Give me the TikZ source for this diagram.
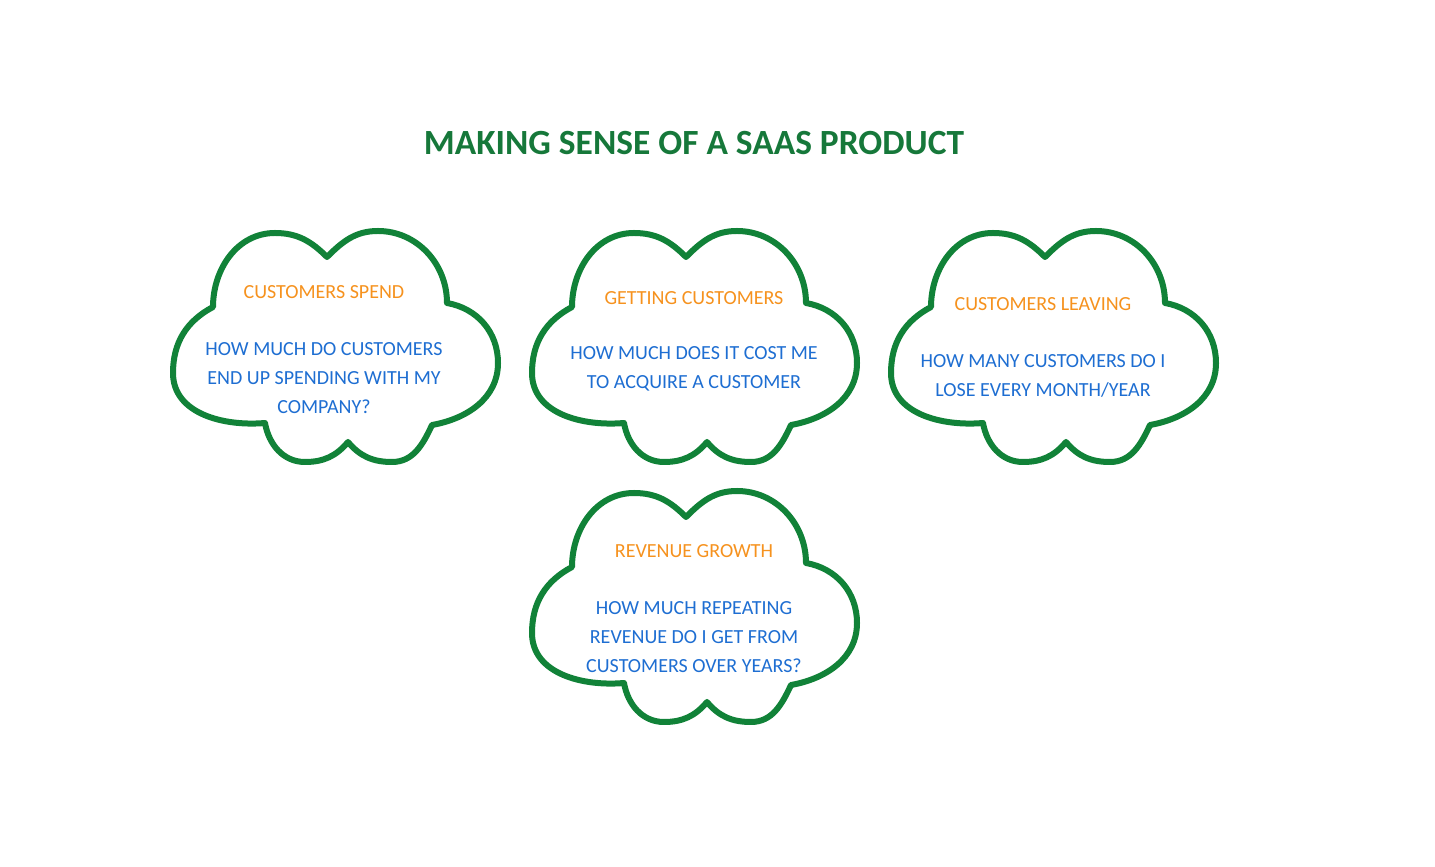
\documentclass[tikz,border=0pt]{standalone}
\usepackage{fontspec}
\setmainfont{Carlito}
\usepackage{tikz}
\definecolor{cloudgreen}{RGB}{17,130,56}
\definecolor{titlegreen}{RGB}{22,120,58}
\definecolor{headorange}{RGB}{246,146,30}
\definecolor{bodyblue}{RGB}{30,110,210}
\tikzset{
  cloudline/.style={draw=cloudgreen,line width=3pt,fill=white,line join=round},
  head/.style={text=headorange,font=\fontsize{10}{12}\selectfont,inner sep=0pt},
  body/.style={text=bodyblue,font=\fontsize{10}{14.5}\selectfont,align=center,inner sep=0pt},
}
\begin{document}
\begin{tikzpicture}[x=0.5pt,y=0.5pt]
\useasboundingbox (0,0) rectangle (1435,867);
% clouds
\foreach \cx/\cy in {336/521,695/521,1054/521,695/261}{
  \path[cloudline,shift={(\cx,\cy)}] (-123,39) to[out=90,in=180] (-61,113) to[out=0,in=135] (-9,89)
    to[out=45,in=180] (42,115) to[out=0,in=90] (111,43)
    to[out=-10,in=90] (162,-17) to[out=-90,in=10] (96,-79)
    to[out=-115,in=0] (56,-116) to[out=180,in=-50] (12,-96)
    to[out=-130,in=0] (-31,-116) to[out=180,in=-80] (-71,-77)
    to[out=185,in=-90] (-163,-27) to[out=90,in=208] cycle;}
\node[text=titlegreen,font=\fontsize{17.7}{21}\selectfont\bfseries] (title) at (694,724) {MAKING SENSE OF A SAAS PRODUCT};
\node[head] (spendhead) at (324,575) {CUSTOMERS SPEND};
\node[body] (spendbody) at (324,489) {HOW MUCH DO CUSTOMERS\\END UP SPENDING WITH MY\\COMPANY?};
\node[head] (gethead) at (694,569) {GETTING CUSTOMERS};
\node[body] (getbody) at (694,498) {HOW MUCH DOES IT COST ME\\TO ACQUIRE A CUSTOMER};
\node[head] (leavehead) at (1043,563) {CUSTOMERS LEAVING};
\node[body] (leavebody) at (1043,491) {HOW MANY CUSTOMERS DO I\\LOSE EVERY MONTH/YEAR};
\node[head] (growhead) at (694,316) {REVENUE GROWTH};
\node[body] (growbody) at (694,230) {HOW MUCH REPEATING\\REVENUE DO I GET FROM\\CUSTOMERS OVER YEARS?};
\end{tikzpicture}
\end{document}
